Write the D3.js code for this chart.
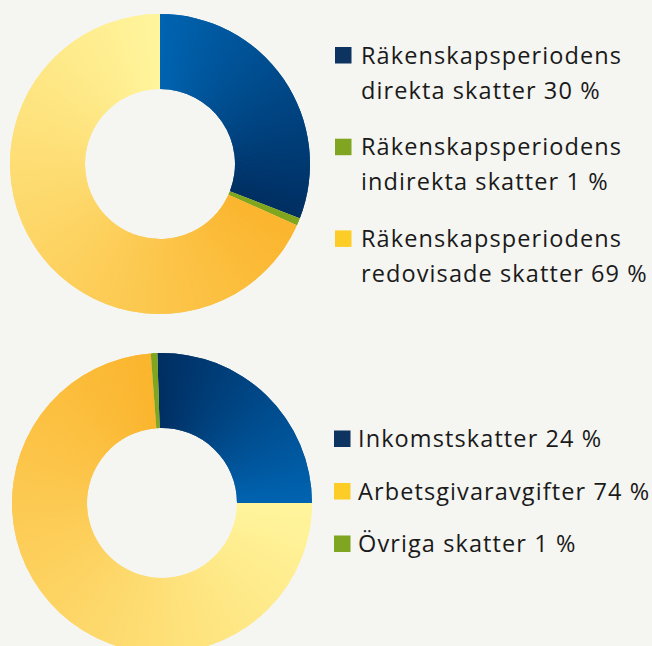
<!DOCTYPE html>
<html>
<head>
<meta charset="utf-8">
<script src="https://cdn.jsdelivr.net/npm/d3@7"></script>
<style>
  html,body{margin:0;padding:0;background:#f5f5f1;}
  svg{display:block;}
</style>
</head>
<body>
<div id="chart"></div>
<script>
// two donuts: tax split (top) and payroll taxes (bottom)

const topLabels=[["Räkenskapsperiodens","direkta skatter 30 %"],["Räkenskapsperiodens","indirekta skatter 1 %"],["Räkenskapsperiodens","redovisade skatter 69 %"]];
const topShares=[30.9,0.8,68.3];   // slice sizes as drawn (legend shows rounded %)
const topKeys=["blue","green","yellow"];

const botLabels=["Inkomstskatter 24 %","Arbetsgivaravgifter 74 %","Övriga skatter 1 %"];
const botShares=[25.5,73.8,0.7];
const botKeys=["blue","yellow","green"];

const W=652,H=646;
const FONT="'Open Sans', sans-serif";

// gradient end points per colour key [slice start, slice end]
const ramps={
  blue:["#0064b1","#002f62"],
  yellow:["#fbb52e","#fff59d"],
  green:["#80a61f","#80a61f"]
};
const swatch={blue:"#0d3361",yellow:"#fdcd27",green:"#80a520"};

const svg=d3.select("#chart").append("svg")
  .attr("width",W).attr("height",H).attr("viewBox",`0 0 ${W} ${H}`);
svg.append("rect").attr("width",W).attr("height",H).attr("fill","#f5f5f1");
const defs=svg.append("defs");

let clipId=0;
function drawDonut(cx,cy,shares,keys,startDeg,flip){
  const pie=d3.pie().sort(null)
    .startAngle(startDeg*Math.PI/180).endAngle(startDeg*Math.PI/180+2*Math.PI);
  const arc=d3.arc().innerRadius(75).outerRadius(150);
  const wide=d3.arc().innerRadius(60).outerRadius(165);
  const g=svg.append("g").attr("transform",`translate(${cx},${cy})`);
  pie(shares).forEach((d,i)=>{
    let [c0,c1]=ramps[keys[i]];
    if(flip) [c0,c1]=[c1,c0];
    const col=d3.interpolateRgb(c0,c1);
    const id="slice-"+(clipId++);
    defs.append("clipPath").attr("id",id)
      .append("path").attr("transform",`translate(${cx},${cy})`).attr("d",arc(d));
    // angular gradient: thin wedges, clipped to the slice so only its own edge shows
    const sg=svg.append("g").attr("clip-path",`url(#${id})`)
      .append("g").attr("transform",`translate(${cx},${cy})`);
    const span=d.endAngle-d.startAngle;
    const n=Math.max(1,Math.ceil(span/(0.5*Math.PI/180)));
    const step=span/n;
    d3.range(n).forEach(k=>{
      const a0=d.startAngle+(k===0?-0.05:k*step);
      const a1=k===n-1?d.endAngle+0.05:d.startAngle+(k+2)*step;
      sg.append("path")
        .attr("d",wide({startAngle:a0,endAngle:a1}))
        .attr("fill",col((k+0.5)/n));
    });
  });
  g.remove();
}

drawDonut(160,164,topShares,topKeys,0,false);
drawDonut(162,503,botShares,botKeys,-1.8,true);

function legendText(sel,x,y,t){
  return sel.append("text").attr("x",x).attr("y",y)
    .attr("fill","#1a1a1a")
    .style("font-family",FONT).style("font-size","23.5px").style("letter-spacing","1.1px")
    .text(t);
}

// top legend
const tl=svg.append("g");
topLabels.forEach((lines,i)=>{
  const base=63.5+i*91.7;
  tl.append("rect").attr("x",335).attr("y",base-16.5).attr("width",16.5).attr("height",16.5)
    .attr("fill",swatch[topKeys[i]]);
  lines.forEach((t,j)=>legendText(tl,361,base+j*35,t));
});

// bottom legend
const bl=svg.append("g");
botLabels.forEach((t,i)=>{
  const base=447+i*52.5;
  bl.append("rect").attr("x",334).attr("y",base-16.5).attr("width",16.5).attr("height",16.5)
    .attr("fill",swatch[botKeys[i]]);
  legendText(bl,358,base,t);
});
</script>
</body>
</html>
